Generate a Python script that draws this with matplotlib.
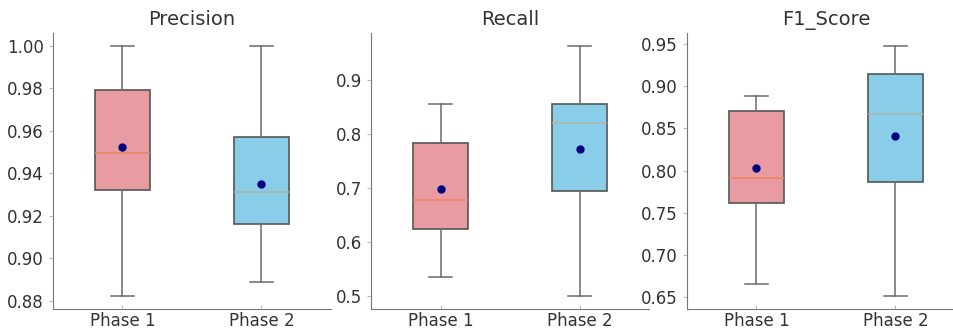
import matplotlib
matplotlib.use('Agg')
import matplotlib.pyplot as plt

# values
metrics = ['Precision', 'Recall', 'F1_Score']
phases = ['Phase 1', 'Phase 2']

whislo = {'Precision': [0.882, 0.8887], 'Recall': [0.536, 0.500], 'F1_Score': [0.6657, 0.651]}
q1 = {'Precision': [0.9319, 0.9163], 'Recall': [0.625, 0.695], 'F1_Score': [0.7613, 0.786]}
med = {'Precision': [0.9497, 0.931], 'Recall': [0.679, 0.821], 'F1_Score': [0.7915, 0.8674]}
q3 = {'Precision': [0.979, 0.9571], 'Recall': [0.785, 0.856], 'F1_Score': [0.8705, 0.9146]}
whishi = {'Precision': [1.000, 1.000], 'Recall': [0.857, 0.9645], 'F1_Score': [0.888, 0.948]}
means = {'Precision': [0.9525, 0.9349], 'Recall': [0.699, 0.773], 'F1_Score': [0.8026, 0.8407]}

box_colors = ['#E89BA0', '#89CDE8']
median_colors = ['#EE8360', '#A9B5A8']

fig = plt.figure(figsize=(9.54, 3.3), dpi=100)
lefts = [53, 371, 687]
axes = [fig.add_axes([l / 954, 21 / 330, 278 / 954, 276 / 330]) for l in lefts]

for ax, m in zip(axes, metrics):
    stats = []
    for i, ph in enumerate(phases):
        stats.append({'label': ph, 'whislo': whislo[m][i], 'q1': q1[m][i], 'med': med[m][i],
                      'q3': q3[m][i], 'whishi': whishi[m][i], 'mean': means[m][i], 'fliers': []})
    bp = ax.bxp(stats, positions=[1, 2], widths=0.4, capwidths=0.17, patch_artist=True, showmeans=True,
                boxprops=dict(edgecolor='#555555', linewidth=1.2),
                whiskerprops=dict(color='#6a6a6a', linewidth=1.1),
                capprops=dict(color='#6a6a6a', linewidth=1.1),
                medianprops=dict(linewidth=1.1),
                meanprops=dict(marker='o', markerfacecolor='navy', markeredgecolor='navy', markersize=5))
    for patch, c in zip(bp['boxes'], box_colors):
        patch.set_facecolor(c)
    for line, c in zip(bp['medians'], median_colors):
        line.set_color(c)
    ax.set_title(m, fontsize=14, color='#333333', pad=6)
    ax.spines['top'].set_visible(False)
    ax.spines['right'].set_visible(False)
    for s in ['left', 'bottom']:
        ax.spines[s].set_color('#777777')
    ax.tick_params(axis='y', labelsize=12, labelcolor='#333333', color='#bbbbbb', length=3)
    ax.tick_params(axis='x', labelsize=12, labelcolor='#333333', color='#bbbbbb', length=3,
                   direction='in', pad=2)
    ax.set_xlim(0.5, 2.5)

axes[0].set_yticks([0.88, 0.90, 0.92, 0.94, 0.96, 0.98, 1.00])
axes[0].set_yticklabels(['0.88', '0.90', '0.92', '0.94', '0.96', '0.98', '1.00'])
axes[1].set_yticks([0.5, 0.6, 0.7, 0.8, 0.9])
axes[2].set_yticks([0.65, 0.70, 0.75, 0.80, 0.85, 0.90, 0.95])
axes[2].set_yticklabels(['0.65', '0.70', '0.75', '0.80', '0.85', '0.90', '0.95'])

fig.savefig('out.png', dpi=100)
